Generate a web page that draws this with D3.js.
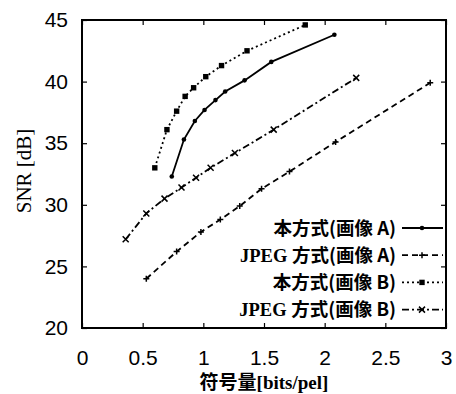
<!DOCTYPE html>
<html>
<head>
<meta charset="utf-8">
<script src="https://cdn.jsdelivr.net/npm/d3@7"></script>
<style>
  body { margin: 0; background: #fff; }
  .tick text { font-family: "Liberation Sans", Arial, sans-serif; font-size: 21px; fill: #000; }
  .tick line { stroke: #000; stroke-width: 1.2; }
</style>
</head>
<body>
<script>

// data
var seriesNames = ['本方式(画像 A)', 'JPEG 方式(画像 A)', '本方式(画像 B)', 'JPEG 方式(画像 B)'];

var oursA = [[0.74, 32.3], [0.84, 35.3], [0.93, 36.8], [1.01, 37.7], [1.10, 38.5],
             [1.18, 39.2], [1.34, 40.1], [1.56, 41.6], [2.08, 43.8]];
var jpegA = [[0.53, 24.0], [0.78, 26.2], [0.98, 27.8], [1.14, 28.8], [1.30, 29.9],
             [1.48, 31.3], [1.71, 32.7], [2.09, 35.1], [2.87, 39.9]];
var oursB = [[0.60, 33.0], [0.70, 36.1], [0.78, 37.6], [0.85, 38.8], [0.92, 39.5],
             [1.02, 40.4], [1.15, 41.3], [1.36, 42.5], [1.84, 44.6]];
var jpegB = [[0.36, 27.2], [0.53, 29.3], [0.68, 30.5], [0.82, 31.4], [0.94, 32.2],
             [1.06, 33.0], [1.26, 34.2], [1.58, 36.1], [2.26, 40.3]];

var xTicks = [0, 0.5, 1, 1.5, 2, 2.5, 3];
var yTicks = [20, 25, 30, 35, 40, 45];

var width = 456;
var height = 394;
var plot = {left: 82, right: 446, top: 20, bottom: 328};

var xScale = d3.scaleLinear()
    .domain([0, 3])
    .range([plot.left, plot.right]);
var yScale = d3.scaleLinear()
    .domain([20, 45])
    .range([plot.bottom, plot.top]);

let svg = d3.select('body')
    .append('svg')
        .attr('width', width)
        .attr('height', height);

// axes, ticks pointing inwards on all four sides
svg.append('g')
    .attr('transform', 'translate(0,' + plot.bottom + ')')
    .call(d3.axisBottom(xScale).tickValues(xTicks).tickSize(-5).tickPadding(22)
        .tickFormat(d3.format('')));
svg.append('g')
    .attr('transform', 'translate(0,' + plot.top + ')')
    .call(d3.axisTop(xScale).tickValues(xTicks).tickSize(-5).tickFormat(''));
svg.append('g')
    .attr('transform', 'translate(' + plot.left + ',0)')
    .call(d3.axisLeft(yScale).tickValues(yTicks).tickSize(-5).tickPadding(14));
svg.append('g')
    .attr('transform', 'translate(' + plot.right + ',0)')
    .call(d3.axisRight(yScale).tickValues(yTicks).tickSize(-5).tickFormat(''));
svg.selectAll('.domain').remove();

// frame
svg.append('rect')
    .attr('x', plot.left)
    .attr('y', plot.top)
    .attr('width', plot.right - plot.left)
    .attr('height', plot.bottom - plot.top)
    .attr('fill', 'none')
    .attr('stroke', '#000')
    .attr('stroke-width', 2);

// axis titles
svg.append('text')
    .attr('x', 264)
    .attr('y', 389)
    .attr('text-anchor', 'middle')
    .style('font-size', '19px')
    .style('font-weight', 'bold')
    .call(function(t) {
        t.append('tspan').style('font-family', '"Noto Sans CJK JP", sans-serif').text('符号量');
        t.append('tspan').style('font-family', '"Liberation Serif", serif').text('[bits/pel]');
    });

svg.append('text')
    .attr('transform', 'translate(31,171) rotate(-90)')
    .attr('text-anchor', 'middle')
    .style('font-family', '"Liberation Serif", serif')
    .style('font-size', '21px')
    .text('SNR [dB]');

var styles = [
    {data: oursA, dash: null, marker: 'dot'},
    {data: jpegA, dash: '6,4', marker: 'plus'},
    {data: oursB, dash: '2,3', marker: 'square'},
    {data: jpegB, dash: '7,3,2,3', marker: 'cross'}
];

var line = d3.line()
    .x(d => xScale(d[0]))
    .y(d => yScale(d[1]));

function drawMarker(g, kind, x, y) {
    if (kind === 'dot') {
        g.append('circle').attr('cx', x).attr('cy', y).attr('r', 2.3).attr('fill', '#000');
    } else if (kind === 'square') {
        g.append('rect').attr('x', x - 2.7).attr('y', y - 2.7).attr('width', 5.4).attr('height', 5.4).attr('fill', '#000');
    } else if (kind === 'plus') {
        g.append('path').attr('d', 'M' + (x - 3) + ',' + y + 'h6M' + x + ',' + (y - 3) + 'v6')
            .attr('stroke', '#000').attr('stroke-width', 1.5);
    } else {
        g.append('path').attr('d', 'M' + (x - 3) + ',' + (y - 3) + 'l6,6M' + (x - 3) + ',' + (y + 3) + 'l6,-6')
            .attr('stroke', '#000').attr('stroke-width', 1.5);
    }
}

styles.forEach(function(s) {
    svg.append('path')
        .datum(s.data)
        .attr('fill', 'none')
        .attr('stroke', '#000')
        .attr('stroke-width', 1.8)
        .attr('stroke-dasharray', s.dash)
        .attr('d', line);
    var g = svg.append('g');
    s.data.forEach(function(d) {
        drawMarker(g, s.marker, xScale(d[0]), yScale(d[1]));
    });
});

// legend
var legend = svg.append('g');
seriesNames.forEach(function(name, i) {
    var y = 228 + i * 27.2;
    var txt = legend.append('text')
        .attr('x', 396)
        .attr('y', y + 6.5)
        .attr('text-anchor', 'end')
        .style('font-size', '18.5px')
        .style('font-weight', 'bold');
    if (name.indexOf('JPEG') === 0) {
        txt.append('tspan').style('font-family', '"Liberation Serif", serif').text('JPEG ');
        txt.append('tspan').style('font-family', '"Noto Sans CJK JP", sans-serif').text(name.slice(5));
    } else {
        txt.append('tspan').style('font-family', '"Noto Sans CJK JP", sans-serif').text(name);
    }
    legend.append('line')
        .attr('x1', 402).attr('x2', 443)
        .attr('y1', y).attr('y2', y)
        .attr('stroke', '#000')
        .attr('stroke-width', 1.8)
        .attr('stroke-dasharray', styles[i].dash);
    drawMarker(legend, styles[i].marker, 422, y);
});

</script>
</body>
</html>
